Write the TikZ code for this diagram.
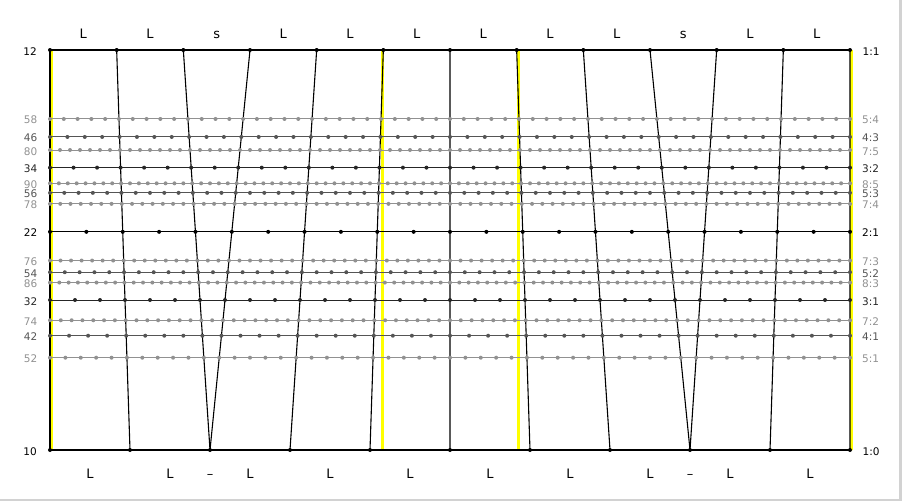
\documentclass[tikz,border=0pt]{standalone}
\usepackage{fontspec}
\setmainfont{DejaVu Sans}
\definecolor{tiergray}{HTML}{919191}
\definecolor{tiermid}{HTML}{555555}
\definecolor{tierdark}{HTML}{262626}
\definecolor{framegray}{HTML}{D2D2D2}
\definecolor{hiyellow}{HTML}{FFFF00}
\begin{document}
\begin{tikzpicture}[
    x=1pt, y=-1pt,
    dot/.style={circle, fill, inner sep=0pt, minimum size=4pt},
    row/.style={line width=1pt},
    link/.style={draw, line width=1.1pt},
    hilite/.style={draw=hiyellow, line width=2.6pt},
    letter/.style={font=\fontsize{13}{15}\selectfont, inner sep=0pt, anchor=base},
    ratiolbl/.style={font=\fontsize{10.5}{12}\selectfont, inner sep=0pt},
    tier0/.style={black, line width=1.3pt},
    tier1/.style={black},
    tier2/.style={tierdark},
    tier3/.style={tiermid},
    tier4/.style={tiergray}
    ]
\useasboundingbox (0,0) rectangle (902,501);
\fill[framegray] (899,0) rectangle (902,501);
\fill[framegray] (0,499) rectangle (902,501);

% step points of the two outer rows
\foreach \i in {0,...,12}
    \coordinate (t\i) at (50+800/12*\i, 50);
\foreach \i in {0,...,10}
    \coordinate (b\i) at (50+80*\i, 450);
\coordinate (ya) at (382.5,50);
\coordinate (yb) at (382.5,450);
\coordinate (yc) at (518.5,50);
\coordinate (yd) at (518.5,450);

% yellow marks
\draw[hilite] ([xshift=1.5pt]t0) -- ([xshift=1.5pt]b0);
\draw[hilite] ([xshift=1.5pt]t12) -- ([xshift=1.5pt]b10);
\draw[hilite] (ya) -- (yb);
\draw[hilite] (yc) -- (yd);

% steps from 12 down to 10
\foreach \a/\b in {0/0,1/1,2/2,3/2,4/3,5/4,6/5,7/6,8/7,9/8,10/8,11/9,12/10}
    \draw[link] (t\a) -- (b\b);

% one row per ratio L:s
\foreach \nL/\ns/\tier in {1/1/0,5/4/4,4/3/3,7/5/4,3/2/2,8/5/4,5/3/3,7/4/4,
    2/1/1,7/3/4,5/2/3,8/3/4,3/1/2,7/2/4,4/1/3,5/1/4,1/0/0}{
    \pgfmathtruncatemacro\N{10*\nL+2*\ns}
    \pgfmathsetmacro\yy{450-2400*\ns/(5*\nL+\ns)}
    \coordinate (l\N) at (50,\yy);
    \coordinate (r\N) at (850,\yy);
    \draw[row, tier\tier] (l\N) -- (r\N);
    \foreach \i in {0,...,\N}
        \node[dot, tier\tier] (p\N-\i) at (50+800/\N*\i, \yy) {};
    \node[ratiolbl, tier\tier, anchor=base east] (n\N) at (37.5,\yy+5) {\N};
    \node[ratiolbl, tier\tier, anchor=base west] (q\N) at (862,\yy+5) {\nL:\ns};
}

% step names
\foreach \i/\t in {0/L,1/L,2/s,3/L,4/L,5/L,6/L,7/L,8/L,9/s,10/L,11/L}{
    \pgfmathtruncatemacro\j{\i+1}
    \path (t\i) -- (t\j) node[letter, midway, yshift=11.7pt] (u\i) {\t};
}
\foreach \i in {0,...,9}{
    \pgfmathtruncatemacro\j{\i+1}
    \path (b\i) -- (b\j) node[letter, midway, yshift=-28pt] (d\i) {L};
}
\node[letter, yshift=-28pt] (dash2) at (b2) {–};
\node[letter, yshift=-28pt] (dash8) at (b8) {–};
\end{tikzpicture}
\end{document}
